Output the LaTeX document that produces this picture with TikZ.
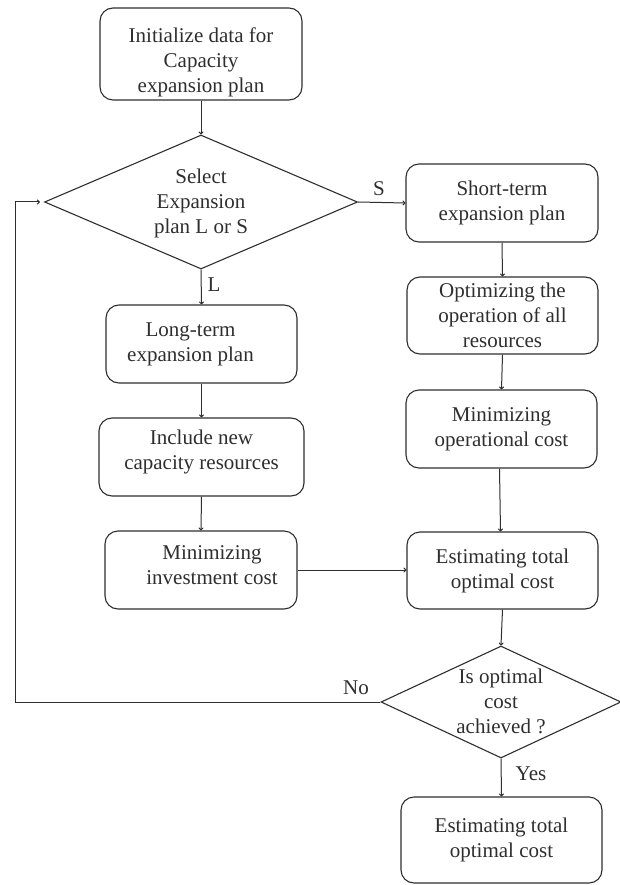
\documentclass[tikz,border=0pt]{standalone}
\usepackage{fontspec}
\setmainfont{Liberation Serif}
\usetikzlibrary{shapes.geometric,arrows.meta}
\definecolor{ink}{HTML}{2E2E2E}
\tikzset{
  procbox/.style={draw=ink, line width=1.1pt, rounded corners=13pt, inner sep=0pt},
  decision/.style={draw=ink, line width=1.1pt, diamond, inner sep=0pt},
  txt/.style={text=ink, align=center, inner sep=0pt, font=\fontsize{21}{25}\selectfont},
  lbl/.style={text=ink, inner sep=0pt, font=\fontsize{21}{25}\selectfont},
  flow/.style={draw=ink, line width=1pt, -{To[length=3pt,width=5pt]}},
}
\begin{document}
\begin{tikzpicture}[x=1pt, y=-1pt]
\useasboundingbox (0,0) rectangle (620,885);

% process boxes (left column, right column)
\node[procbox, minimum width=202pt, minimum height=92pt] (init) at (201,54) {};
\node[procbox, minimum width=191pt, minimum height=78pt] (lt)   at (201.5,344) {};
\node[procbox, minimum width=205pt, minimum height=78pt] (inc)  at (201.5,457) {};
\node[procbox, minimum width=192pt, minimum height=78pt] (inv)  at (201,570) {};
\node[procbox, minimum width=192pt, minimum height=78pt] (st)   at (502,203) {};
\node[procbox, minimum width=191pt, minimum height=77pt] (opt)  at (502.5,315.5) {};
\node[procbox, minimum width=191pt, minimum height=78pt] (mop)  at (501.5,429) {};
\node[procbox, minimum width=191pt, minimum height=77pt] (est)  at (502.5,570.5) {};
\node[procbox, minimum width=201pt, minimum height=86pt] (fin)  at (501.5,840) {};

% decisions
\node[decision, minimum width=313pt, minimum height=134pt] (d1) at (201,202) {};
\node[decision, minimum width=240pt, minimum height=112pt] (d2) at (501,702) {};

% texts
\node[txt] at ([yshift=-8pt]init.center) {Initialize data for\\Capacity\\expansion plan};
\node[txt] at ([yshift=-1pt]d1.center) {Select\\Expansion\\plan L or S};
\node[txt] at ([xshift=-11pt]lt.center) {Long-term\\expansion plan};
\node[txt] at ([yshift=5pt]inc.center) {Include new\\capacity resources};
\node[txt] at ([xshift=11pt,yshift=5pt]inv.center) {Minimizing\\investment cost};
\node[txt] at (st.center) {Short-term\\expansion plan};
\node[txt] at (opt.center) {Optimizing the\\operation of all\\resources};
\node[txt] at (mop.center) {Minimizing\\operational cost};
\node[txt] at (est.center) {Estimating total\\optimal cost};
\node[txt] at ([yshift=1pt]d2.center) {Is optimal\\cost\\achieved ?};
\node[txt] at (fin.center) {Estimating total\\optimal cost};

% connectors
\draw[flow] (init.south) -- (d1.north);
\draw[flow] (d1.east) -- (st.west);
\draw[flow] (d1.south) -- (lt.north);
\draw[flow] (lt.south) -- (inc.north);
\draw[flow] (inc.south) -- (inv.north);
\draw[flow] (st.south) -- (opt.north);
\draw[flow] (opt.south) -- (mop.north);
\draw[flow] ([xshift=-2pt]mop.south) -- ([xshift=-2pt]est.north);
\draw[flow] (inv.east) -- (inv.east -| est.west);
\draw[flow] (est.south) -- (d2.north);
\draw[flow] (d2.south) -- (fin.north);
\coordinate (loopin) at ([xshift=-4pt]d1.west);
\draw[flow] (d2.west) -- (15,702) -- (15,202) -- (loopin);

% branch labels
\node[lbl] at (379,189) {S};
\node[lbl] at (214,285) {L};
\node[lbl] at (356,688) {No};
\node[lbl] at (531,774) {Yes};
\end{tikzpicture}
\end{document}
